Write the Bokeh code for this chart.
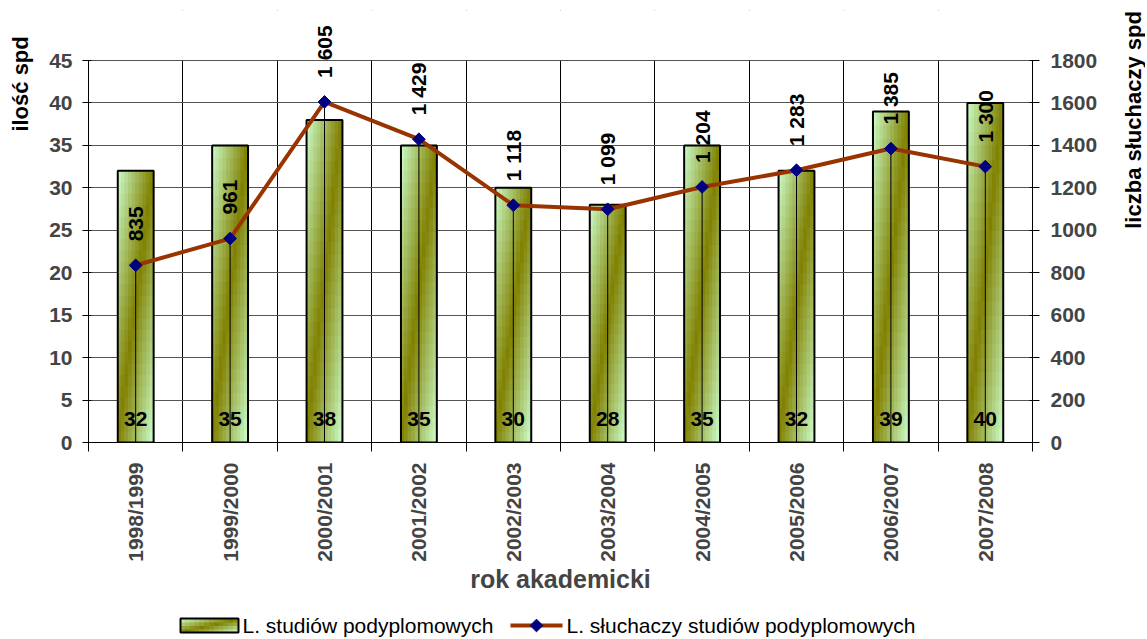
import numpy as np
from bokeh.plotting import figure
from bokeh.layouts import row, column
from bokeh.models import (Range1d, LinearAxis, FixedTicker, ColumnDataSource,
                          LabelSet, BoxAnnotation)
from bokeh.core.properties import value
from bokeh.embed import file_html
from bokeh.resources import INLINE

# ---- data ----
years = ["1998/1999", "1999/2000", "2000/2001", "2001/2002", "2002/2003",
         "2003/2004", "2004/2005", "2005/2006", "2006/2007", "2007/2008"]
n_studies = [32, 35, 38, 35, 30, 28, 35, 32, 39, 40]            # L. studiów podyplomowych
n_students = [835, 961, 1605, 1429, 1118, 1099, 1204, 1283, 1385, 1300]  # L. słuchaczy
left_ticks = list(range(0, 50, 5))
right_ticks = list(range(0, 2000, 200))
series_names = ["L. studiów podyplomowych", "L. słuchaczy studiów podyplomowych"]

FONT = "Liberation Sans"
LIGHT = np.array([0xCC, 0xFF, 0xCC], float)
OLIVE = np.array([0x80, 0x80, 0x00], float)
LINE_C = "#993300"
MARK_C = "#000080"


def grad_color(u, w):
    """diagonal light-olive-light gradient; u across (0..1), w up (0..1)"""
    s = (u + 1 - w) / 2
    t = 1 - abs(2 * s - 1)
    col = LIGHT + t * (OLIVE - LIGHT)
    return "#%02x%02x%02x" % tuple(int(round(c)) for c in col)


TOTAL_W, TOTAL_H = 1145, 637
LT_W, RT_W = 34, 29
MAIN_W = TOTAL_W - LT_W - RT_W
LEG_H = 37
MAIN_H = TOTAL_H - LEG_H
FRAME_TOP, FRAME_BOTTOM = 10, 442          # frame edges (px, from top)
AXIS_TOP_PX = 60                           # where 45 / 1800 sits
scale_ext = (FRAME_BOTTOM - FRAME_TOP) / (FRAME_BOTTOM - AXIS_TOP_PX)
L_MAX, R_MAX = left_ticks[-1], right_ticks[-1]

xc = [i + 0.5 for i in range(len(years))]
BW = 0.38

p = figure(width=MAIN_W, height=MAIN_H, output_backend="svg", toolbar_location=None,
           x_range=Range1d(0, len(years)), y_range=Range1d(0, L_MAX * scale_ext),
           min_border_left=88 - LT_W, min_border_right=MAIN_W - (1032 - LT_W),
           min_border_top=FRAME_TOP, min_border_bottom=MAIN_H - FRAME_BOTTOM,
           background_fill_color="white", border_fill_color="white")
p.outline_line_color = None
p.extra_y_ranges = {"right": Range1d(0, R_MAX * scale_ext)}

# ---- grids ----
xg, yg = p.xgrid[0], p.ygrid[0]
xg.ticker = FixedTicker(ticks=list(range(1, len(years))))
xg.grid_line_color = "#000000"
yg.ticker = FixedTicker(ticks=left_ticks)
yg.grid_line_color = "#555555"
cover = BoxAnnotation(bottom=L_MAX, fill_color="white", fill_alpha=1.0,
                      line_color=None, level="underlay")
others = [r for r in p.center if r is not xg and r is not yg]
p.center = [xg, cover, yg] + others

# ---- bars: gradient cells + outline ----
src_bar = ColumnDataSource(dict(x=xc, top=n_studies))
qx0, qx1, qy0, qy1, qc = [], [], [], [], []
NC, NR = 10, 24
for x, v in zip(xc, n_studies):
    left = x - BW / 2
    for ci in range(NC):
        for ri in range(NR):
            qc.append(grad_color((ci + 0.5) / NC, (ri + 0.5) / NR))
            qx0.append(left + BW * ci / NC)
            qx1.append(left + BW * (ci + 1) / NC)
            qy0.append(v * ri / NR)
            qy1.append(v * (ri + 1) / NR)
p.quad(left=qx0, right=qx1, bottom=qy0, top=qy1, fill_color=qc, line_color=qc,
       line_width=1)
p.vbar(x="x", top="top", width=BW, source=src_bar, fill_color=None,
       line_color="black", line_width=2)

# ---- drop lines, line, markers (right axis) ----
src_line = ColumnDataSource(dict(x=xc, y=n_students, zero=[0] * len(xc),
                                 lab=[f"{v:,}".replace(",", " ") for v in n_students]))
p.segment(x0="x", y0="zero", x1="x", y1="y", source=src_line, line_color="black",
          line_width=1, y_range_name="right")
p.line(x="x", y="y", source=src_line, line_color=LINE_C, line_width=4,
       y_range_name="right")
p.scatter(x="x", y="y", source=src_line, marker="square", angle=np.pi / 4,
          size=9, fill_color=MARK_C, line_color=MARK_C, y_range_name="right")

# ---- data labels ----
p.add_layout(LabelSet(x="x", y="y", text="lab", source=src_line, y_range_name="right",
                      angle=np.pi / 2, text_align="left", text_baseline="middle",
                      y_offset=24, text_font=value(FONT), text_font_style="bold",
                      text_font_size="21px", text_color="black"))
src_bl = ColumnDataSource(dict(x=xc, y=[0] * len(xc), lab=[str(v) for v in n_studies]))
p.add_layout(LabelSet(x="x", y="y", text="lab", source=src_bl,
                      text_align="center", text_baseline="alphabetic",
                      y_offset=17, text_font=value(FONT), text_font_style="bold",
                      text_font_size="21px", text_color="black"))

# ---- axes ----
xa = p.xaxis[0]
xa.ticker = FixedTicker(ticks=xc, minor_ticks=list(range(0, len(years) + 1)))
xa.major_label_overrides = {x: y for x, y in zip(xc, years)}
xa.major_label_orientation = np.pi / 2
xa.major_tick_out = 0
xa.major_tick_in = 0
xa.minor_tick_out = 9
xa.minor_tick_in = 0
xa.minor_tick_line_color = "black"
xa.major_label_standoff = 11
xa.major_label_text_font = FONT
xa.major_label_text_font_style = "bold"
xa.major_label_text_font_size = "21px"
xa.axis_label = "rok akademicki"
xa.axis_label_text_font = FONT
xa.axis_label_text_font_style = "bold"
xa.axis_label_text_font_size = "25px"
xa.axis_label_standoff = 0
xa.axis_line_color = "black"

ya = p.yaxis[0]
ya.ticker = FixedTicker(ticks=left_ticks)
ya.bounds = (0, L_MAX)
ya.minor_tick_line_color = None
ya.major_tick_out = 6
ya.major_tick_in = 3
ya.major_label_standoff = 10
ya.major_label_text_font = FONT
ya.major_label_text_font_style = "bold"
ya.major_label_text_font_size = "21px"
ya.axis_line_color = "black"

ra = LinearAxis(y_range_name="right", ticker=FixedTicker(ticks=right_ticks),
                bounds=(0, R_MAX))
ra.minor_tick_line_color = None
ra.major_tick_out = 7
ra.major_tick_in = 3
ra.major_label_standoff = 11
ra.major_label_text_font = FONT
ra.major_label_text_font_style = "bold"
ra.major_label_text_font_size = "21px"
ra.axis_line_color = "black"
p.add_layout(ra, "right")


# ---- side strips holding the axis titles (placed as in the original) ----
def strip(w, h):
    f = figure(width=w, height=h, output_backend="svg", toolbar_location=None,
               x_range=Range1d(0, w), y_range=Range1d(0, h),
               x_axis_type=None, y_axis_type=None, min_border=0,
               background_fill_color="white", border_fill_color="white")
    f.outline_line_color = None
    f.grid.visible = False
    return f


lt = strip(LT_W, MAIN_H)
lt.text(x=[20], y=[MAIN_H - 102], text=["ilość spd"], angle=np.pi / 2,
        text_align="center", text_baseline="middle", text_font=value(FONT),
        text_font_style="bold", text_font_size="22px", text_color="black")
rt = strip(RT_W, MAIN_H)
rt.text(x=[17], y=[MAIN_H - 152], text=["liczba słuchaczy spd"], angle=np.pi / 2,
        text_align="center", text_baseline="middle", text_font=value(FONT),
        text_font_style="bold", text_font_size="22px", text_color="black")

# ---- legend strip ----
cy = 12
bx0, bx1, by0, by1 = 180, 238, cy - 7, cy + 7
gx0, gx1, gy0, gy1, gc = [], [], [], [], []
lg = strip(TOTAL_W, LEG_H)
for ci in range(12):
    for ri in range(4):
        gc.append(grad_color((ci + 0.5) / 12, (ri + 0.5) / 4))
        gx0.append(bx0 + (bx1 - bx0) * ci / 12)
        gx1.append(bx0 + (bx1 - bx0) * (ci + 1) / 12)
        gy0.append(by0 + (by1 - by0) * ri / 4)
        gy1.append(by0 + (by1 - by0) * (ri + 1) / 4)
lg.quad(left=gx0, right=gx1, bottom=gy0, top=gy1, fill_color=gc, line_color=gc)
lg.quad(left=[bx0], right=[bx1], bottom=[by0], top=[by1], fill_color=None,
        line_color="black", line_width=2)
lg.text(x=[242], y=[cy], text=[series_names[0]], text_align="left",
        text_baseline="middle", text_font=value(FONT), text_font_size="21px",
        text_color="black")
lg.segment(x0=[510], y0=[cy], x1=[562], y1=[cy], line_color=LINE_C, line_width=4)
lg.scatter(x=[536], y=[cy], marker="square", angle=np.pi / 4, size=9,
           fill_color=MARK_C, line_color=MARK_C)
lg.text(x=[566], y=[cy], text=[series_names[1]], text_align="left",
        text_baseline="middle", text_font=value(FONT), text_font_size="21px",
        text_color="black")

layout = column(row(lt, p, rt, spacing=0), lg, spacing=0)
open("out.html", "w").write(file_html(layout, INLINE))
